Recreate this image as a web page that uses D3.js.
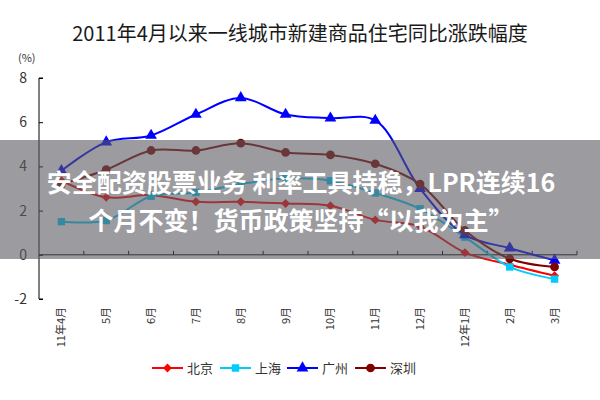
<!DOCTYPE html>
<html lang="zh">
<head>
    <meta charset="UTF-8">
    <title>一线城市新建商品住宅同比涨跌幅度</title>
    <script src="https://cdn.jsdelivr.net/npm/d3@7/dist/d3.min.js"></script>
    <style>
        body { margin: 0; background: #fff; }
        #mainsvg { display: block; }
        text { font-family: "Noto Sans CJK SC", "Liberation Sans", sans-serif; }
    </style>
</head>
<body>
    <svg width="600" height="400" id="mainsvg"></svg>
    <script>
        const months = ["11年4月","5月","6月","7月","8月","9月","10月","11月","12月","12年1月","2月","3月"]
        const yTicks = [-2, 0, 2, 4, 6, 8]
        const beijing   = [3.35, 2.6, 2.7, 2.4, 2.4, 2.32, 2.22, 1.58, 1.28, 0.1, -0.45, -0.95]
        const shanghai  = [1.5, 1.55, 2.65, 2.82, 3.2, 3.45, 3.35, 2.8, 2.08, 0.8, -0.55, -1.1]
        const guangzhou = [3.8, 5.1, 5.4, 6.35, 7.1, 6.35, 6.18, 6.08, 3.0, 0.9, 0.3, -0.25]
        const shenzhen  = [3.2, 3.85, 4.72, 4.72, 5.05, 4.63, 4.52, 4.12, 3.2, 1.1, -0.18, -0.55]

        const series = [
            {name: "北京", values: beijing,   color: "#ff0000", symbol: d3.symbolDiamond2, size: 50},
            {name: "上海", values: shanghai,  color: "#00ccff", symbol: d3.symbolSquare,   size: 55},
            {name: "广州", values: guangzhou, color: "#0000ff", symbol: d3.symbolTriangle, size: 60},
            {name: "深圳", values: shenzhen,  color: "#800000", symbol: d3.symbolCircle,   size: 60}
        ]

        const svg = d3.select('svg')
        const width = +svg.attr('width')

        const x = d3.scaleBand().domain(months).range([39, 577])
        const y = d3.scaleLinear().domain([-2, 8]).range([299, 78])

        // title
        svg.append('text')
            .attr('x', width / 2).attr('y', 41)
            .attr('text-anchor', 'middle')
            .attr('font-size', 20).attr('fill', '#1a1a1a')
            .text('2011年4月以来一线城市新建商品住宅同比涨跌幅度')

        svg.append('text')
            .attr('x', 18).attr('y', 62)
            .attr('font-size', 11).attr('fill', '#333')
            .text('(%)')

        // y axis
        const yAxis = svg.append('g')
            .attr('transform', 'translate(39,0)')
            .call(d3.axisRight(y).tickValues(yTicks).tickSize(4).tickFormat(''))
        yAxis.select('.domain').attr('stroke', '#000').attr('d', `M4,${y(8)}H0V${y(-2)}H4`)
        yAxis.selectAll('.tick line').attr('stroke', '#000')

        svg.append('g').selectAll('text').data(yTicks).join('text')
            .attr('x', 27).attr('y', d => y(d) + 5)
            .attr('text-anchor', 'end')
            .attr('font-size', 14).attr('fill', '#333')
            .text(d => d)

        // x axis along zero
        const xAxis = svg.append('g').attr('transform', `translate(0,${y(0)})`)
        xAxis.append('line')
            .attr('x1', 39).attr('x2', 577)
            .attr('stroke', '#000')
        xAxis.selectAll('.xt').data(months.slice(1).concat(['end'])).join('line')
            .attr('class', 'xt')
            .attr('x1', (d, i) => x(months[0]) + x.step() * (i + 1))
            .attr('x2', (d, i) => x(months[0]) + x.step() * (i + 1))
            .attr('y1', 0).attr('y2', -4)
            .attr('stroke', '#000')

        svg.append('g').selectAll('text').data(months).join('text')
            .attr('transform', d => `translate(${x(d) + x.bandwidth() / 2 + 4},307) rotate(-90)`)
            .attr('text-anchor', 'end')
            .attr('font-size', 11).attr('fill', '#333')
            .text(d => d)

        // lines
        const line = d3.line()
            .x((d, i) => x(months[i]) + x.bandwidth() / 2)
            .y(d => y(d))
            .curve(d3.curveCatmullRom.alpha(0.5))

        const plot = svg.append('g')
        series.forEach(s => {
            plot.append('path')
                .attr('d', line(s.values))
                .attr('fill', 'none')
                .attr('stroke', s.color)
                .attr('stroke-width', 2)
            plot.append('g').selectAll('path').data(s.values).join('path')
                .attr('transform', (d, i) => `translate(${x(months[i]) + x.bandwidth() / 2},${y(d)})`)
                .attr('d', d3.symbol().type(s.symbol).size(s.size))
                .attr('fill', s.color)
        })

        // legend
        const legendX = [152, 220, 287, 355]
        const legend = svg.append('g').selectAll('g').data(series).join('g')
            .attr('transform', (d, i) => `translate(${legendX[i]},368)`)
        legend.append('line')
            .attr('x1', 0).attr('x2', 31)
            .attr('stroke', d => d.color).attr('stroke-width', 2)
        legend.append('path')
            .attr('transform', 'translate(15.5,0)')
            .attr('d', d => d3.symbol().type(d.symbol).size(d.size)())
            .attr('fill', d => d.color)
        legend.append('text')
            .attr('x', 35).attr('y', 5)
            .attr('font-size', 13).attr('fill', '#333')
            .text(d => d.name)

        // overlay banner
        svg.append('rect')
            .attr('x', 0).attr('y', 140)
            .attr('width', width).attr('height', 119)
            .attr('fill', 'rgba(90,90,96,0.6)')
        const banner = ['安全配资股票业务 利率工具持稳，LPR连续16', '个月不变！货币政策坚持“以我为主”']
        svg.append('g').selectAll('text').data(banner).join('text')
            .attr('x', width / 2 + 1)
            .attr('y', (d, i) => 192 + i * 38)
            .attr('text-anchor', 'middle')
            .attr('font-size', 25).attr('font-weight', 700)
            .attr('fill', '#fff')
            .text(d => d)
    </script>
</body>
</html>
